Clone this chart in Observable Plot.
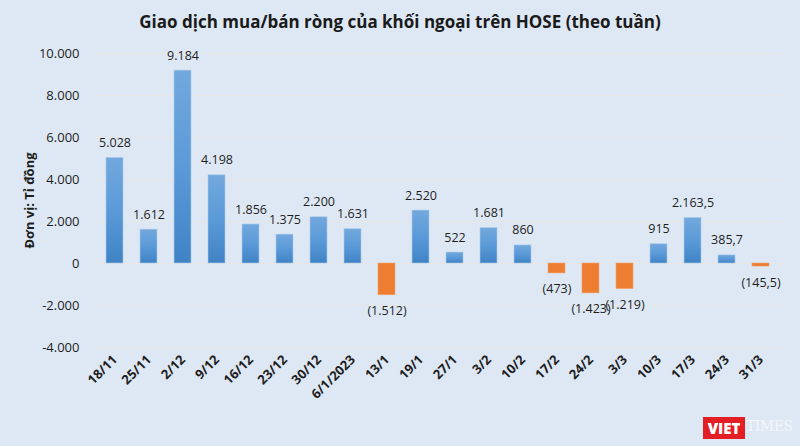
<!DOCTYPE html>
<html>
<head>
<meta charset="utf-8">
<script src="https://cdn.jsdelivr.net/npm/d3@7"></script>
<script src="https://cdn.jsdelivr.net/npm/@observablehq/plot@0.6"></script>
<style>
  html, body { margin: 0; padding: 0; }
  body { width: 800px; height: 446px; background: #dde8f4; overflow: hidden; }
  #wrap { position: relative; width: 800px; height: 446px; background: #dde8f4; }
  #title { height: 40px; line-height: 44px; text-align: center; font-family: "Open Sans", sans-serif; font-weight: 700; font-size: 17px; color: #1a1a1a; }
  #chart svg { display: block; }
  #logo { position: absolute; left: 703px; top: 411px; width: 92px; height: 32px; font-family: "DejaVu Serif", serif; }
  #logo .viet { position: absolute; left: 0; top: 6px; width: 42px; height: 22px; background: #e31e24; color: #fff; font-family: "Open Sans", sans-serif; font-weight: 800; font-size: 15px; line-height: 22px; text-align: center; }
  #logo .times { position: absolute; left: 43px; top: 7px; color: #f4f6fa; font-size: 14px; letter-spacing: -0.5px; }
</style>
</head>
<body>
<div id="wrap">
  <div id="title">Giao dịch mua/bán ròng của khối ngoại trên HOSE (theo tuần)</div>
  <div id="chart"></div>
  <div id="logo"><div class="viet">VIET</div><div class="times">TIMES</div></div>
</div>
<script>
const categories = ["18/11", "25/11", "2/12", "9/12", "16/12", "23/12", "30/12", "6/1/2023", "13/1", "19/1", "27/1", "3/2", "10/2", "17/2", "24/2", "3/3", "10/3", "17/3", "24/3", "31/3"];
const values = [5028, 1612, 9184, 4198, 1856, 1375, 2200, 1631, -1512, 2520, 522, 1681, 860, -473, -1423, -1219, 915, 2163.5, 385.7, -145.5];
const yTicks = [-4000, -2000, 0, 2000, 4000, 6000, 8000, 10000];
const yLabel = "Đơn vị: Tỉ đồng";

const vn = d3.formatLocale({decimal: ",", thousands: ".", grouping: [3], currency: ["", ""], minus: "-"});
const fInt = vn.format(",d");
const fDec = vn.format(",.1f");
const fmtVal = v => {
  const a = Math.abs(v);
  const s = Number.isInteger(a) ? fInt(a) : fDec(a);
  return v < 0 ? "(" + s + ")" : s;
};

const data = categories.map((c, i) => ({week: c, value: values[i], label: fmtVal(values[i])}));
const pos = data.filter(d => d.value >= 0);
const neg = data.filter(d => d.value < 0);

const font = "'Open Sans', sans-serif";

const chart = Plot.plot({
  width: 800,
  height: 406,
  marginTop: 13,
  marginBottom: 99,
  marginLeft: 92,
  marginRight: 18,
  style: {background: "transparent", fontFamily: font, fontSize: "13px", color: "#1e1e1e"},
  x: {domain: categories, paddingInner: 0.5, paddingOuter: 0.25, label: null},
  y: {domain: [-4000, 10000], label: null},
  marks: [
    Plot.gridY(yTicks, {stroke: "#e6e6e6", strokeOpacity: 1, strokeWidth: 1}),
    Plot.barY(pos, {x: "week", y: "value", fill: "url(#blueGrad)", stroke: "#a9c9ea", strokeWidth: 0.6}),
    Plot.barY(neg, {x: "week", y: "value", fill: "#ed7d31", stroke: "#f3a36b", strokeWidth: 0.6}),
    Plot.text(pos, {x: "week", y: "value", text: "label", dy: -15, fontSize: 12.5, fill: "#1e1e1e"}),
    Plot.text(neg, {x: "week", y: "value", text: "label", dy: 16, fontSize: 12.5, fill: "#1e1e1e"}),
    Plot.axisY({ticks: yTicks, tickFormat: vn.format(",d"), tickSize: 0, tickPadding: 13, fontSize: 13, label: yLabel, labelAnchor: "center", labelOffset: 68, labelArrow: "none"}),
    Plot.axisX({tickRotate: -45, tickSize: 0, tickPadding: 10, fontWeight: "bold", fontSize: 13, label: null})
  ]
});

const svg = d3.select(chart);
const defs = svg.insert("defs", ":first-child");
const g = defs.append("linearGradient").attr("id", "blueGrad").attr("x1", 0).attr("y1", 0).attr("x2", 0).attr("y2", 1);
g.append("stop").attr("offset", "0%").attr("stop-color", "#72a8dd");
g.append("stop").attr("offset", "50%").attr("stop-color", "#5b9ad8");
g.append("stop").attr("offset", "100%").attr("stop-color", "#3f83c5");
svg.select('g[aria-label="y-axis label"]').attr("font-weight", "bold").attr("font-size", 13);

document.getElementById("chart").appendChild(chart);
</script>
</body>
</html>
